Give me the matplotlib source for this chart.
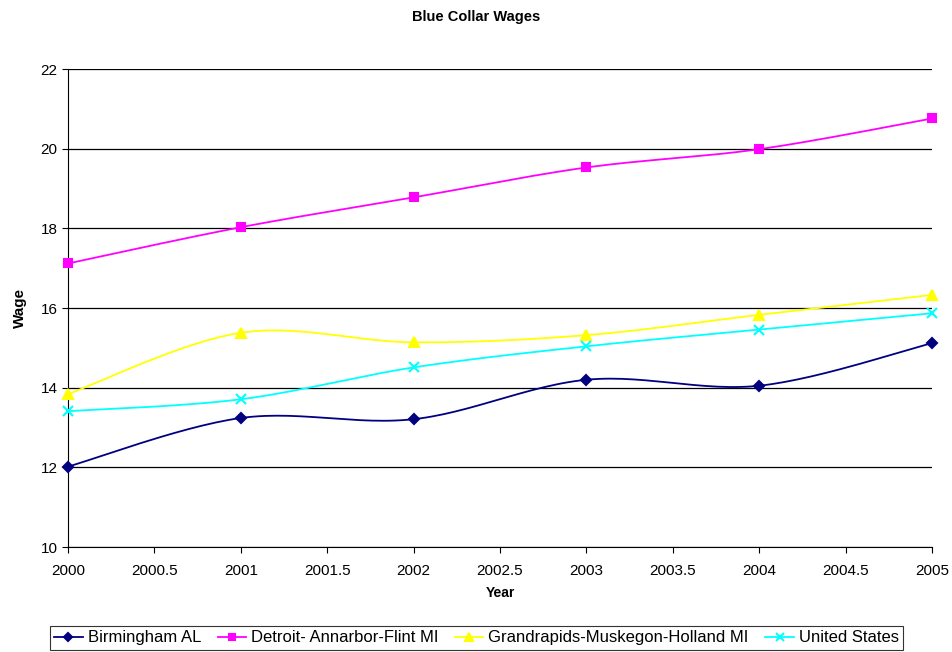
import numpy as np
import matplotlib
matplotlib.use("Agg")
import matplotlib.pyplot as plt

plt.rcParams['font.family'] = ['Liberation Sans', 'DejaVu Sans']

years = [2000, 2001, 2002, 2003, 2004, 2005]
birmingham = [12.02, 13.24, 13.21, 14.20, 14.05, 15.12]
detroit = [17.12, 18.03, 18.78, 19.53, 19.99, 20.76]
grandrapids = [13.84, 15.38, 15.14, 15.32, 15.83, 16.33]
united_states = [13.41, 13.71, 14.51, 15.04, 15.46, 15.87]

series = [
    ("Birmingham AL", birmingham, "#000080", "D", 5),
    ("Detroit- Annarbor-Flint MI", detroit, "#FF00FF", "s", 6),
    ("Grandrapids-Muskegon-Holland MI", grandrapids, "#FFFF00", "^", 7),
    ("United States", united_states, "#00FFFF", "x", 7),
]


def smooth(x, y, n=30):
    # Catmull-Rom curve through the points (like a spreadsheet "smoothed line")
    x = np.asarray(x, float)
    y = np.asarray(y, float)
    px = np.concatenate([[x[0]], x, [x[-1]]])
    py = np.concatenate([[y[0]], y, [y[-1]]])
    xs, ys = [], []
    t = np.linspace(0, 1, n)
    for i in range(1, len(px) - 2):
        for p, out in ((px, xs), (py, ys)):
            p0, p1, p2, p3 = p[i - 1], p[i], p[i + 1], p[i + 2]
            c1 = p1 + (p2 - p0) / 6
            c2 = p2 - (p3 - p1) / 6
            out.extend((1 - t) ** 3 * p1 + 3 * (1 - t) ** 2 * t * c1
                       + 3 * (1 - t) * t ** 2 * c2 + t ** 3 * p2)
    return xs, ys


fig = plt.figure(figsize=(9.53, 6.52), dpi=100)
ax = fig.add_axes([0.0714, 0.161, 0.9066, 0.733])

for label, vals, color, marker, ms in series:
    sx, sy = smooth(years, vals)
    ax.plot(sx, sy, color=color, lw=1.3, zorder=3)
    ax.plot(years, vals, linestyle="none", marker=marker, color=color,
            markersize=ms, mew=1.5, zorder=4, clip_on=False)

ax.set_xlim(2000, 2005)
ax.set_ylim(10, 22)
ax.set_xticks(np.arange(2000, 2005.01, 0.5))
ax.set_xticklabels(["2000", "2000.5", "2001", "2001.5", "2002", "2002.5",
                    "2003", "2003.5", "2004", "2004.5", "2005"])
ax.set_yticks(np.arange(10, 22.1, 2))
ax.yaxis.grid(True, color="black", lw=0.9)
ax.set_axisbelow(True)
for s in ("top", "right"):
    ax.spines[s].set_visible(False)
ax.spines["left"].set_color("black")
ax.spines["bottom"].set_color("black")
ax.tick_params(labelsize=11, direction="out", length=4, color="black")
ax.tick_params(axis="x", pad=8)

ax.set_xlabel("Year", fontsize=10, fontweight="bold", labelpad=6)
ax.set_ylabel("Wage", fontsize=11, fontweight="bold", labelpad=10)
fig.suptitle("Blue Collar Wages", fontsize=10.5, fontweight="bold", y=0.985)

handles = []
for label, vals, color, marker, ms in series:
    h, = ax.plot([], [], color=color, marker=marker, markersize=ms - 1,
                 mew=1.5, lw=1.3, label=label)
    handles.append(h)
leg = fig.legend(handles=handles, loc="lower center", ncol=4,
                 bbox_to_anchor=(0.5, -0.009), fontsize=12, frameon=True,
                 fancybox=False, edgecolor="black", handlelength=1.7,
                 handletextpad=0.3, columnspacing=1.0, borderpad=0.25)
leg.get_frame().set_linewidth(0.8)

fig.savefig("out.png", dpi=100)
